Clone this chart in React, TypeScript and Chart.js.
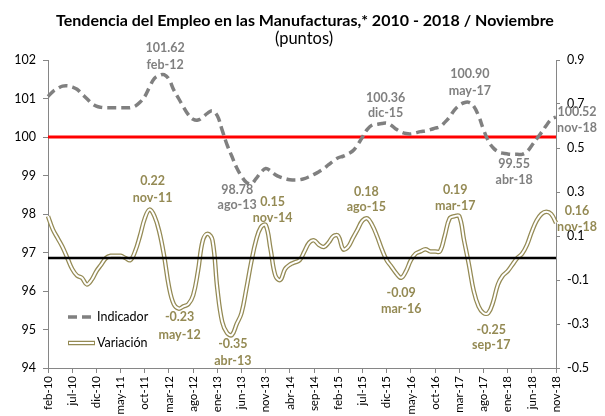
import React, { useEffect, useRef } from "react";
import { Chart, registerables } from "chart.js";
Chart.register(...registerables);

const MONTH_NAMES = ["ene", "feb", "mar", "abr", "may", "jun", "jul", "ago", "sep", "oct", "nov", "dic"];
const categories: string[] = [];
for (let y = 2010; y <= 2018; y++) {
  for (let m = 0; m < 12; m++) {
    if (y === 2010 && m < 1) continue;
    if (y === 2018 && m > 10) continue;
    categories.push(`${MONTH_NAMES[m]}-${String(y).slice(2)}`);
  }
}

const indicador: number[] = [
  101.05, 101.18, 101.26, 101.32, 101.33, 101.30, 101.24, 101.12, 101.00, 100.88, 100.80,
  100.77, 100.76, 100.76, 100.76, 100.76, 100.76, 100.76, 100.80, 100.90, 101.05, 101.30, 101.52,
  101.60, 101.62, 101.50, 101.22, 101.00, 100.78, 100.58, 100.46, 100.44, 100.52, 100.62, 100.68,
  100.55, 100.18, 99.80, 99.50, 99.20, 98.98, 98.82, 98.78, 98.92, 99.08, 99.18, 99.12,
  99.02, 98.96, 98.92, 98.89, 98.88, 98.89, 98.92, 98.97, 99.03, 99.10, 99.18, 99.28,
  99.38, 99.46, 99.50, 99.56, 99.64, 99.80, 100.00, 100.20, 100.31, 100.33, 100.35, 100.36,
  100.30, 100.20, 100.13, 100.09, 100.08, 100.11, 100.14, 100.16, 100.19, 100.23, 100.27, 100.38,
  100.52, 100.70, 100.82, 100.89, 100.90, 100.80, 100.55, 100.20, 99.90, 99.72, 99.62, 99.58,
  99.56, 99.55, 99.55, 99.55, 99.62, 99.78, 99.95, 100.12, 100.30, 100.46, 100.52,
];

const variacion: number[] = [
  0.19, 0.13, 0.09, 0.05, 0.00, -0.05, -0.08, -0.09, -0.12, -0.10, -0.06,
  -0.03, 0.00, 0.01, 0.01, 0.01, 0.00, -0.01, 0.03, 0.10, 0.18, 0.22, 0.19,
  0.12, 0.01, -0.13, -0.21, -0.23, -0.22, -0.21, -0.17, -0.06, 0.08, 0.11, 0.08,
  -0.14, -0.29, -0.34, -0.35, -0.30, -0.25, -0.14, -0.02, 0.08, 0.14, 0.15, 0.04,
  -0.08, -0.10, -0.05, -0.03, -0.02, -0.01, 0.03, 0.07, 0.08, 0.06, 0.05, 0.07,
  0.10, 0.10, 0.04, 0.05, 0.09, 0.13, 0.17, 0.18, 0.15, 0.10, 0.04, -0.01,
  -0.04, -0.07, -0.09, -0.06, -0.01, 0.02, 0.03, 0.04, 0.03, 0.03, 0.03, 0.10,
  0.18, 0.19, 0.19, 0.08, -0.03, -0.15, -0.22, -0.25, -0.25, -0.20, -0.12, -0.08,
  -0.06, -0.03, 0.00, 0.02, 0.06, 0.12, 0.17, 0.20, 0.21, 0.20, 0.16,
];

const referencia = 100;
const cero = 0;

// Annotated points: [month label, text value, month text]
const indicadorNotas: [string, string, string][] = [
  ["feb-12", "101.62", "feb-12"],
  ["ago-13", "98.78", "ago-13"],
  ["dic-15", "100.36", "dic-15"],
  ["may-17", "100.90", "may-17"],
  ["abr-18", "99.55", "abr-18"],
  ["nov-18", "100.52", "nov-18"],
];
const variacionNotas: [string, string, string][] = [
  ["nov-11", "0.22", "nov-11"],
  ["may-12", "-0.23", "may-12"],
  ["abr-13", "-0.35", "abr-13"],
  ["nov-13", "0.15", "nov-14"],
  ["ago-15", "0.18", "ago-15"],
  ["mar-16", "-0.09", "mar-16"],
  ["mar-17", "0.19", "mar-17"],
  ["sep-17", "-0.25", "sep-17"],
  ["nov-18", "0.16", "nov-18"],
];

// label placement offsets (px) relative to the point: dx, dy line1, dy line2
const indicadorOffsets: [number, number, number][] = [
  [1, -27, -10], [-14, 6, 21], [-1, -25, -10], [1, -28, -11], [-8, 10, 26], [21, -5, 11],
];
const variacionOffsets: [number, number, number][] = [
  [3, -29, -12], [1, 8, 26], [1, 9, 26], [7, -23, -7], [-1, -26, -11], [0, 15, 31], [-4, -26, -10], [3, 17, 32], [21, -12, 4],
];

const TITLE = "Tendencia del Empleo en las Manufacturas,* 2010 - 2018 / Noviembre";
const SUBTITLE = "(puntos)";
const GRAY = "#808080";
const OLIVE = "#948A54";
const AXIS = "#868686";
const FONT = "Lato, 'Open Sans', sans-serif";

const textPlugin = {
  id: "textPlugin",
  afterDraw(chart: any) {
    const ctx = chart.ctx as CanvasRenderingContext2D;
    const xs = chart.scales.x;
    const yl = chart.scales.y;
    const yr = chart.scales.y1;
    const area = chart.chartArea;
    ctx.save();
    ctx.textAlign = "center";
    ctx.textBaseline = "middle";
    ctx.fillStyle = "#000";
    ctx.font = `bold 16px ${FONT}`;
    ctx.fillText(TITLE, 305, 21);
    ctx.font = `16.5px ${FONT}`;
    ctx.fillText(SUBTITLE, 304, 39);

    ctx.font = `bold 12.5px ${FONT}`;
    indicadorNotas.forEach((n, k) => {
      const i = categories.indexOf(n[0]);
      const px = xs.getPixelForValue(i);
      const py = yl.getPixelForValue(indicador[i]);
      const [dx, d1, d2] = indicadorOffsets[k];
      ctx.fillStyle = GRAY;
      ctx.fillText(n[1], px + dx, py + d1);
      ctx.fillText(n[2], px + dx, py + d2);
    });
    variacionNotas.forEach((n, k) => {
      const i = categories.indexOf(n[0]);
      const px = xs.getPixelForValue(i);
      const py = yr.getPixelForValue(variacion[i]);
      const [dx, d1, d2] = variacionOffsets[k];
      ctx.fillStyle = OLIVE;
      ctx.fillText(n[1], px + dx, py + d1);
      ctx.fillText(n[2], px + dx, py + d2);
    });

    // legend
    const lx = area.left + 20;
    const ly1 = area.bottom - 51;
    const ly2 = area.bottom - 25;
    ctx.strokeStyle = GRAY;
    ctx.lineWidth = 3.5;
    ctx.setLineDash([9, 5]);
    ctx.beginPath();
    ctx.moveTo(lx, ly1);
    ctx.lineTo(lx + 27, ly1);
    ctx.stroke();
    ctx.setLineDash([]);
    ctx.strokeStyle = OLIVE;
    ctx.lineWidth = 4.5;
    ctx.beginPath();
    ctx.moveTo(lx, ly2);
    ctx.lineTo(lx + 27, ly2);
    ctx.stroke();
    ctx.strokeStyle = "#fff";
    ctx.lineWidth = 2;
    ctx.beginPath();
    ctx.moveTo(lx + 1, ly2);
    ctx.lineTo(lx + 26, ly2);
    ctx.stroke();
    ctx.fillStyle = "#000";
    ctx.textAlign = "left";
    ctx.font = `12.5px ${FONT}`;
    ctx.fillText("Indicador", lx + 29, ly1);
    ctx.fillText("Variación", lx + 29, ly2);
    ctx.restore();
  },
};

export default function App() {
  const ref = useRef<HTMLCanvasElement | null>(null);
  useEffect(() => {
    if (!ref.current) return;
    const chart = new Chart(ref.current, {
      type: "line",
      data: {
        labels: categories,
        datasets: [
          {
            label: "Referencia",
            data: categories.map(() => referencia),
            yAxisID: "y",
            borderColor: "#FF0000",
            borderWidth: 3,
            pointRadius: 0,
            order: 5,
          },
          {
            label: "Indicador",
            data: indicador,
            yAxisID: "y",
            borderColor: GRAY,
            borderWidth: 3.5,
            borderDash: [9, 5],
            pointRadius: 0,
            tension: 0.4,
            order: 4,
          },
          {
            label: "Variación",
            data: variacion,
            yAxisID: "y1",
            borderColor: OLIVE,
            borderWidth: 4.5,
            pointRadius: 0,
            tension: 0.4,
            order: 3,
          },
          {
            label: "Variación (centro)",
            data: variacion,
            yAxisID: "y1",
            borderColor: "#ffffff",
            borderWidth: 2,
            pointRadius: 0,
            tension: 0.4,
            order: 2,
          },
          {
            label: "Cero",
            data: categories.map(() => cero),
            yAxisID: "y1",
            borderColor: "#000000",
            borderWidth: 2.5,
            pointRadius: 0,
            order: 1,
          },
        ],
      },
      options: {
        responsive: false,
        animation: false,
        layout: { padding: { top: 60, left: 0, right: 0, bottom: 0 } },
        plugins: { legend: { display: false }, tooltip: { enabled: false }, title: { display: false } },
        scales: {
          x: {
            type: "category",
            offset: false,
            grid: { display: true, drawOnChartArea: false, drawTicks: true, tickLength: 5, color: AXIS },
            border: { display: true, color: AXIS, width: 1 },
            ticks: {
              autoSkip: false,
              maxRotation: 90,
              minRotation: 90,
              padding: 3,
              color: "#000",
              font: { family: FONT, size: 11.5 },
              callback: (_v: any, i: number) => (i % 5 === 0 ? categories[i] : null),
            },
            afterFit: (s: any) => { s.height = 48; },
          },
          y: {
            position: "left",
            min: 94,
            max: 102,
            grid: { display: true, drawOnChartArea: false, drawTicks: true, tickLength: 5, color: AXIS },
            border: { display: true, color: AXIS, width: 1 },
            ticks: { stepSize: 1, padding: 7, color: "#000", font: { family: FONT, size: 12.5 } },
            afterFit: (s: any) => { s.width = 48; },
          },
          y1: {
            position: "right",
            min: -0.5,
            max: 0.9,
            grid: { display: true, drawOnChartArea: false, drawTicks: true, tickLength: 4, color: AXIS },
            border: { display: true, color: AXIS, width: 1 },
            ticks: {
              stepSize: 0.2,
              padding: 7,
              color: "#000",
              font: { family: FONT, size: 12.5 },
              callback: (v: any) => Number(v).toFixed(1),
            },
            afterFit: (s: any) => { s.width = 49; },
          },
        },
      },
      plugins: [textPlugin],
    } as any);
    return () => chart.destroy();
  }, []);
  return (
    <div style={{ position: "fixed", left: 0, top: 0, width: 605, height: 416, background: "#fff" }}>
      <canvas ref={ref} width={605} height={416} style={{ display: "block" }} />
    </div>
  );
}
